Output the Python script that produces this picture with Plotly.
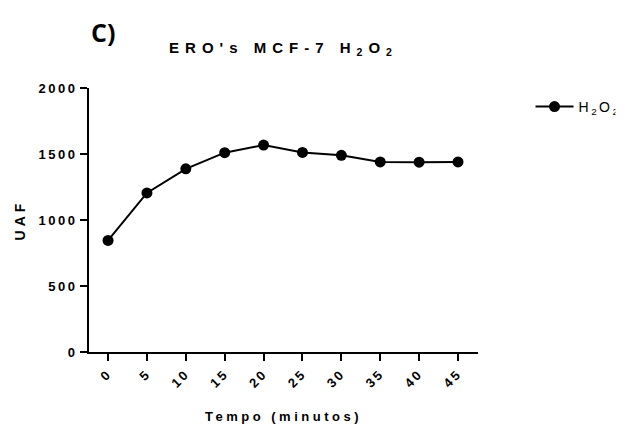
import plotly.graph_objects as go

# Data
tempo = [0, 5, 10, 15, 20, 25, 30, 35, 40, 45]
uaf_h2o2 = [845, 1205, 1388, 1510, 1568, 1512, 1490, 1440, 1438, 1440]
y_ticks = [0, 500, 1000, 1500, 2000]
series_name = "H<sub>2</sub>O<sub>2</sub>"
title_text = "ERO's MCF-7 H<sub>2</sub>O<sub>2</sub>"
panel_label = "C)"

FONT = "Liberation Sans, Arial, sans-serif"

fig = go.Figure()
fig.add_trace(go.Scatter(
    x=tempo, y=uaf_h2o2, name=series_name, mode="lines+markers",
    line=dict(color="black", width=2),
    marker=dict(color="black", size=11),
    showlegend=True,
))

fig.update_layout(
    width=625, height=427,
    paper_bgcolor="white", plot_bgcolor="white",
    margin=dict(l=89, r=147, t=88, b=75, autoexpand=False),
    font=dict(family=FONT, color="black"),
    title=dict(
        text=title_text, x=(89 + 478) / 2 / 625, xanchor="center",
        y=1 - 48 / 427, yanchor="middle",
        font=dict(size=15, family=FONT, weight="bold", color="black"),
    ),
    xaxis=dict(
        range=[-2.45, 47.57], tickvals=tempo, ticktext=[str(t) for t in tempo],
        tickangle=-45, ticks="outside", ticklen=7, tickwidth=2, tickcolor="black",
        showline=True, linewidth=2, linecolor="black", showgrid=False, zeroline=False,
        tickfont=dict(size=13, family=FONT, weight="bold"),
        title=dict(text="Tempo (minutos)", standoff=26,
                   font=dict(size=13, family=FONT, weight="bold")),
        automargin=False,
    ),
    yaxis=dict(
        range=[0, 2000], tickvals=y_ticks, ticks="outside", ticklen=7, tickwidth=2,
        tickcolor="black", showline=True, linewidth=2, linecolor="black",
        showgrid=False, zeroline=False,
        tickfont=dict(size=13, family=FONT, weight="bold"),
        title=dict(text="UAF", standoff=20,
                   font=dict(size=14, family=FONT, weight="bold")),
        automargin=False,
    ),
    legend=dict(
        x=1.135, xanchor="left", y=(352 - 107) / 264, yanchor="middle",
        font=dict(size=14, family=FONT), bgcolor="rgba(0,0,0,0)",
        itemwidth=38,
    ),
    annotations=[dict(
        text=panel_label, xref="paper", yref="paper",
        x=0, y=1 + (88 - 32) / 264, xanchor="left", yanchor="middle",
        showarrow=False, font=dict(size=25, family="Open Sans, Liberation Sans", weight="bold"),
    )],
)

style_js = """
var s = document.createElement('style');
s.textContent = 'html, body {margin:0; padding:0; overflow:hidden;} ' +
  '.gtitle {letter-spacing: 6px;} ' +
  '.xtitle {letter-spacing: 3.5px;} ' +
  '.ytitle {letter-spacing: 4px;} ' +
  '.xtick text, .ytick text {letter-spacing: 2.5px;} ' +
  '.legendtext {letter-spacing: 2.5px;}';
document.head.appendChild(s);
"""

fig.write_html("out.html", post_script=style_js, config={"displayModeBar": False})
